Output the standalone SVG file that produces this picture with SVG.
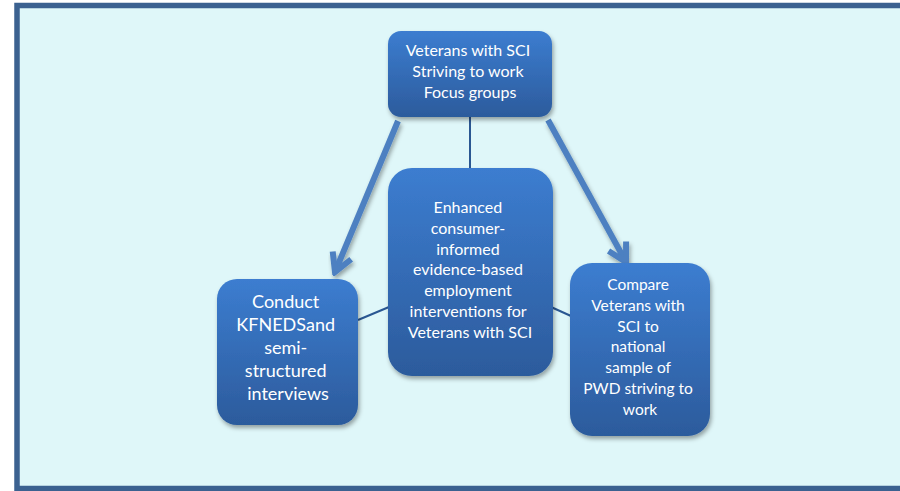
<svg xmlns="http://www.w3.org/2000/svg" width="900" height="491" viewBox="0 0 900 491">
  <defs>
    <linearGradient id="nodeGrad" x1="0" y1="0" x2="0" y2="1">
      <stop offset="0" stop-color="#3c7dd0"/>
      <stop offset="1" stop-color="#2c5b9c"/>
    </linearGradient>
    <filter id="shadow" x="-10%" y="-10%" width="125%" height="125%">
      <feDropShadow dx="1.5" dy="3" stdDeviation="2" flood-color="#000" flood-opacity="0.35"/>
    </filter>
    <marker id="chev" viewBox="-22 -14 26 28" markerWidth="26" markerHeight="28" refX="0" refY="0" orient="auto-start-reverse" markerUnits="userSpaceOnUse">
      <path d="M -18 -10 L 0 0 L -18 10" fill="none" stroke="#4d80c1" stroke-width="6" stroke-linejoin="miter"/>
    </marker>
    <style>
      .node { fill: url(#nodeGrad); filter: url(#shadow); }
      .label { font-family: Lato, "Open Sans", "Liberation Sans", sans-serif; fill: #ffffff; text-anchor: middle; }
      .arrow { stroke: #4d80c1; stroke-width: 6; fill: none; }
      .thin { stroke: #2a5792; stroke-width: 2; fill: none; }
    </style>
  </defs>

  <rect x="17" y="5.5" width="900" height="483" fill="#dff7f9" stroke="#3b6190" stroke-width="5.5"/>

  <g id="connectors">
    <line class="thin" x1="470" y1="117" x2="470" y2="168"/>
    <line class="thin" x1="358" y1="320" x2="389" y2="307"/>
    <line class="thin" x1="551" y1="307" x2="571" y2="316"/>
    <line class="arrow" x1="398" y1="121" x2="335" y2="272" filter="url(#shadow)" marker-end="url(#chev)"/>
    <line class="arrow" x1="548" y1="120" x2="626" y2="262" filter="url(#shadow)" marker-end="url(#chev)"/>
    <line class="arrow" x1="362" y1="402" x2="565" y2="402" filter="url(#shadow)" marker-start="url(#chev)" marker-end="url(#chev)"/>
  </g>

  <g id="node-top">
    <rect class="node" x="388" y="31" width="164" height="86" rx="13"/>
    <text class="label" font-size="16">
      <tspan x="470" y="56">Veterans with SCI</tspan>
      <tspan x="470" y="77">Striving to work</tspan>
      <tspan x="470" y="98">Focus groups</tspan>
    </text>
  </g>

  <g id="node-center">
    <rect class="node" x="388" y="168" width="165" height="208" rx="24"/>
    <text class="label" font-size="16">
      <tspan x="470" y="213">Enhanced</tspan>
      <tspan x="470" y="234">consumer-</tspan>
      <tspan x="470" y="255">informed</tspan>
      <tspan x="470" y="275">evidence-based</tspan>
      <tspan x="470" y="296">employment</tspan>
      <tspan x="470" y="317">interventions for</tspan>
      <tspan x="470" y="338">Veterans with SCI</tspan>
    </text>
  </g>

  <g id="node-left">
    <rect class="node" x="217" y="279" width="141" height="146" rx="20"/>
    <text class="label" font-size="18">
      <tspan x="288" y="308">Conduct</tspan>
      <tspan x="288" y="331">KFNEDSand</tspan>
      <tspan x="288" y="354">semi-</tspan>
      <tspan x="288" y="377">structured</tspan>
      <tspan x="288" y="400">interviews</tspan>
    </text>
  </g>

  <g id="node-right">
    <rect class="node" x="570" y="263" width="140" height="173" rx="22"/>
    <text class="label" font-size="15.5">
      <tspan x="640" y="290">Compare</tspan>
      <tspan x="640" y="311">Veterans with</tspan>
      <tspan x="640" y="332">SCI to</tspan>
      <tspan x="640" y="352">national</tspan>
      <tspan x="640" y="373">sample of</tspan>
      <tspan x="640" y="394">PWD striving to</tspan>
      <tspan x="640" y="415">work</tspan>
    </text>
  </g>
</svg>
